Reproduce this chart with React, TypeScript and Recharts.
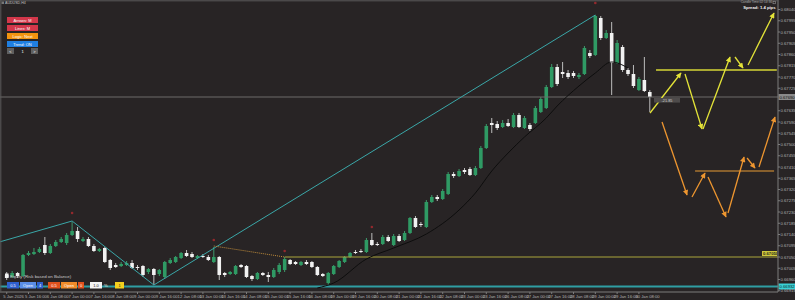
import React from 'react';
import { ComposedChart, Bar, Line, Scatter, XAxis, YAxis, ReferenceLine } from 'recharts';

const opens = [0.66978,0.66970,0.66986,0.66974,0.67058,0.67062,0.67070,0.67098,0.67066,0.67094,0.67110,0.67106,0.67138,0.67154,0.67114,0.67122,0.67094,0.67074,0.67086,0.67038,0.67018,0.67014,0.67018,0.67026,0.67010,0.67014,0.66990,0.67002,0.66982,0.66970,0.67026,0.67030,0.67046,0.67066,0.67062,0.67046,0.67054,0.67050,0.67030,0.67050,0.66986,0.66982,0.66982,0.67018,0.67014,0.66974,0.66962,0.66986,0.66978,0.66970,0.66990,0.66998,0.67038,0.67030,0.67018,0.67030,0.67030,0.67010,0.66982,0.66946,0.66982,0.67010,0.67030,0.67050,0.67070,0.67074,0.67070,0.67118,0.67102,0.67102,0.67130,0.67098,0.67134,0.67118,0.67146,0.67206,0.67182,0.67170,0.67270,0.67290,0.67282,0.67302,0.67382,0.67374,0.67398,0.67402,0.67378,0.67406,0.67486,0.67586,0.67582,0.67570,0.67586,0.67570,0.67618,0.67566,0.67578,0.67586,0.67630,0.67646,0.67730,0.67810,0.67790,0.67786,0.67786,0.67770,0.67782,0.67866,0.67858,0.68006,0.67926,0.67946,0.67826,0.67890,0.67798,0.67782,0.67718,0.67758,0.67710];
const highs = [0.66990,0.66994,0.66990,0.67062,0.67074,0.67086,0.67090,0.67130,0.67102,0.67118,0.67130,0.67146,0.67190,0.67170,0.67130,0.67130,0.67102,0.67086,0.67090,0.67042,0.67026,0.67030,0.67034,0.67038,0.67018,0.67018,0.67006,0.67006,0.67002,0.67034,0.67046,0.67054,0.67070,0.67078,0.67070,0.67058,0.67062,0.67058,0.67090,0.67054,0.66990,0.66994,0.67018,0.67022,0.67018,0.66978,0.66990,0.66990,0.66990,0.67006,0.67026,0.67050,0.67042,0.67034,0.67034,0.67038,0.67034,0.67014,0.66986,0.66990,0.67018,0.67038,0.67054,0.67070,0.67078,0.67082,0.67126,0.67146,0.67110,0.67138,0.67138,0.67142,0.67142,0.67154,0.67210,0.67214,0.67190,0.67278,0.67298,0.67298,0.67322,0.67390,0.67390,0.67402,0.67406,0.67410,0.67414,0.67494,0.67582,0.67606,0.67594,0.67598,0.67602,0.67626,0.67626,0.67614,0.67586,0.67654,0.67690,0.67738,0.67822,0.67822,0.67830,0.67798,0.67794,0.67786,0.67894,0.67878,0.68018,0.68014,0.67958,0.67990,0.67918,0.67898,0.67806,0.67818,0.67770,0.67850,0.67718];
const lows = [0.66958,0.66966,0.66966,0.66970,0.67054,0.67058,0.67066,0.67058,0.67062,0.67090,0.67106,0.67098,0.67134,0.67110,0.67110,0.67090,0.67070,0.67070,0.67026,0.66998,0.67006,0.67010,0.67014,0.67002,0.66998,0.66970,0.66982,0.66938,0.66974,0.66962,0.67022,0.67026,0.67042,0.67050,0.67046,0.67042,0.67046,0.67034,0.67026,0.66958,0.66970,0.66978,0.66978,0.67006,0.66966,0.66954,0.66958,0.66974,0.66950,0.66966,0.66982,0.66990,0.67018,0.67018,0.67014,0.67018,0.67006,0.66974,0.66970,0.66938,0.66978,0.67006,0.67026,0.67046,0.67062,0.67066,0.67066,0.67094,0.67094,0.67098,0.67110,0.67094,0.67110,0.67114,0.67142,0.67166,0.67170,0.67166,0.67266,0.67274,0.67278,0.67298,0.67366,0.67370,0.67382,0.67374,0.67374,0.67402,0.67482,0.67546,0.67558,0.67566,0.67570,0.67566,0.67566,0.67562,0.67554,0.67582,0.67626,0.67642,0.67726,0.67734,0.67766,0.67762,0.67766,0.67762,0.67778,0.67846,0.67854,0.67918,0.67922,0.67698,0.67822,0.67790,0.67774,0.67726,0.67714,0.67710,0.67630];
const closes = [0.66966,0.66986,0.66974,0.67058,0.67066,0.67070,0.67082,0.67066,0.67094,0.67110,0.67122,0.67138,0.67154,0.67122,0.67122,0.67094,0.67074,0.67082,0.67030,0.67006,0.67010,0.67022,0.67026,0.67006,0.67006,0.66978,0.67002,0.66978,0.66998,0.67030,0.67038,0.67050,0.67066,0.67054,0.67050,0.67054,0.67050,0.67038,0.67050,0.66978,0.66978,0.66990,0.67014,0.67010,0.66970,0.66962,0.66986,0.66978,0.66970,0.66998,0.67018,0.67042,0.67022,0.67022,0.67030,0.67022,0.67010,0.66978,0.66974,0.66986,0.67014,0.67034,0.67050,0.67066,0.67066,0.67070,0.67118,0.67098,0.67098,0.67130,0.67114,0.67134,0.67114,0.67146,0.67206,0.67170,0.67178,0.67270,0.67290,0.67282,0.67314,0.67382,0.67374,0.67394,0.67390,0.67378,0.67406,0.67486,0.67574,0.67578,0.67566,0.67586,0.67574,0.67618,0.67570,0.67606,0.67562,0.67646,0.67682,0.67730,0.67810,0.67742,0.67782,0.67770,0.67774,0.67778,0.67886,0.67854,0.68014,0.67926,0.67946,0.67826,0.67906,0.67798,0.67782,0.67734,0.67762,0.67714,0.67690];

const zigzag = [
  { i: -5, p: 0.67087 },
  { i: 12, p: 0.67194 },
  { i: 27, p: 0.66938 },
  { i: 108, p: 0.68018 },
];
const trendMA = [
  { i: 57, p: 0.66926 }, { i: 60, p: 0.66946 }, { i: 66, p: 0.67042 }, { i: 71, p: 0.67086 },
  { i: 77, p: 0.67142 }, { i: 83, p: 0.67238 }, { i: 86, p: 0.67306 }, { i: 89, p: 0.67394 },
  { i: 92, p: 0.67466 }, { i: 95, p: 0.67530 }, { i: 99, p: 0.67606 }, { i: 101, p: 0.67654 },
  { i: 105, p: 0.67734 }, { i: 108, p: 0.67786 }, { i: 111, p: 0.67830 }, { i: 114, p: 0.67806 },
];
const dottedLink = [{ i: 38, p: 0.67094 }, { i: 51, p: 0.6705 }];
const swingMarks = [
  { i: 12, p: 0.67226 }, { i: 38, p: 0.67118 }, { i: 51, p: 0.67074 }, { i: 67, p: 0.6717 }, { i: 108, p: 0.68066 },
];
const yellowLevel = [{ i: 119.14, p: 0.67798 }, { i: 141.3, p: 0.67798 }];
const orangeLevel = [{ i: 126.3, p: 0.67394 }, { i: 140.8, p: 0.67394 }];
const yellowArrows = [
  [118.04, 0.67626, 123.72, 0.67786],
  [124.46, 0.67782, 127.58, 0.67562],
  [127.76, 0.67562, 132.72, 0.6785],
  [133.63, 0.6785, 135.1, 0.67806],
  [136.02, 0.67818, 140.79, 0.68026],
];
const orangeArrows = [
  [120.24, 0.6759, 124.83, 0.67298],
  [125.74, 0.6729, 128.13, 0.67386],
  [128.68, 0.6737, 131.98, 0.6721],
  [132.35, 0.67226, 135.29, 0.6745],
  [135.84, 0.67446, 137.3, 0.67406],
  [138.03, 0.6741, 140.97, 0.6761],
];
const LEVEL = 0.6705;
const LAST_PRICE = 0.6769;
const BOTTOM_LINE = 0.66932;

const xTicks = [0,4,8,12,16,20,24,28,32,36,40,44,48,52,56,60,64,68,72,76,80,84,88,92,96,100,104,108,112,116];
const timeLabels = ['5 Jan 2026','5 Jan 16:00','6 Jan 08:00','7 Jan 00:00','7 Jan 16:00','8 Jan 08:00','9 Jan 00:00','9 Jan 16:00','12 Jan 08:00','13 Jan 00:00','13 Jan 16:00','14 Jan 08:00','15 Jan 00:00','15 Jan 16:00','16 Jan 08:00','19 Jan 00:00','19 Jan 16:00','20 Jan 08:00','21 Jan 00:00','21 Jan 16:00','22 Jan 08:00','23 Jan 00:00','23 Jan 16:00','26 Jan 08:00','27 Jan 00:00','27 Jan 16:00','28 Jan 08:00','29 Jan 00:00','29 Jan 16:00','30 Jan 08:00'];
const yTicks = [0.66915,0.6696,0.67005,0.6705,0.67095,0.6714,0.67185,0.6723,0.67275,0.6732,0.67365,0.6741,0.67455,0.675,0.67545,0.6759,0.67635,0.67725,0.6777,0.67815,0.6786,0.67905,0.6795,0.67995,0.6804];

const X_DOMAIN = [-1.23, 141.52];
const Y_DOMAIN = [0.6691, 0.68078];
const FONT = '"Liberation Sans", Arial, sans-serif';
const BG = '#282425';

const candles = opens.map((o, i) => ({ i, o, h: highs[i], l: lows[i], c: closes[i] }));

function Candle(props: any) {
  const { x, y, width, height, payload } = props;
  if (!payload || y == null || height == null) return null;
  const { o, h, l, c } = payload;
  const cx = x + width / 2;
  const k = h === l ? 0 : height / (h - l);
  const yo = y + (h - o) * k;
  const yc = y + (h - c) * k;
  const bull = c > o;
  const top = Math.min(yo, yc);
  const bh = Math.max(Math.abs(yo - yc), 1);
  const bw = 3.6;
  return (
    <g>
      <line x1={cx} x2={cx} y1={y} y2={y + height} stroke={bull ? '#3e9b6c' : '#bdbdbd'} strokeWidth={1} />
      <rect x={cx - bw / 2} y={top} width={bw} height={bh} fill={bull ? '#2f9a64' : '#f1f1f1'} />
    </g>
  );
}

const XTick = (props: any) => {
  const { x, y, payload } = props;
  const idx = xTicks.indexOf(payload.value);
  return (
    <text x={x - 3.5} y={y + 4.3} fontSize={4.2} fill="#b3b3b3" fontFamily={FONT}>
      {idx >= 0 ? timeLabels[idx] : ''}
    </text>
  );
};

const YTick = (props: any) => {
  const { x, y, payload } = props;
  return (
    <text x={x + 0.5} y={y + 1.5} fontSize={4.2} fill="#b3b3b3" fontFamily={FONT}>
      {Number(payload.value).toFixed(5)}
    </text>
  );
};

const axisBadge = (text: string, bg: string, fg: string) => (props: any) => {
  const vb = props.viewBox;
  if (!vb) return null;
  const x = vb.x + vb.width;
  const y = vb.y;
  return (
    <g>
      <rect x={x + 0.5} y={y - 3} width={16.5} height={6} fill={bg} />
      <text x={x + 1.5} y={y + 1.6} fontSize={4.2} fill={fg} fontFamily={FONT}>{text}</text>
    </g>
  );
};

const levelBadge = (props: any) => {
  const vb = props.viewBox;
  if (!vb) return null;
  const x = vb.x + vb.width;
  const y = vb.y;
  return (
    <g>
      <rect x={x - 16} y={y - 6} width={15} height={5} fill="#cfc83c" />
      <text x={x - 15} y={y - 2.2} fontSize={4.2} fontWeight="bold" fill="#2a2a1a" fontFamily={FONT}>0.67050</text>
    </g>
  );
};

const Mark = (props: any) => (
  <circle cx={props.cx} cy={props.cy} r={1.3} fill="#93292d" />
);

const btn = (x: number, y: number, w: number, h: number, fill: string, label: string, color = '#fff') => (
  <g key={label + x + y}>
    <rect x={x} y={y} width={w} height={h} fill={fill} />
    <text x={x + w / 2} y={y + h / 2 + 1.5} fontSize={4} textAnchor="middle" fill={color} fontFamily={FONT}>{label}</text>
  </g>
);

export default function App() {
  return (
    <div style={{ position: 'absolute', left: 0, top: 0, width: 795, height: 300, background: BG, overflow: 'hidden' }}>
      <svg width={0} height={0} style={{ position: 'absolute' }}>
        <defs>
          <marker id="ahY" viewBox="0 0 10 10" refX="9" refY="5" markerWidth="6.5" markerHeight="5.5" orient="auto" markerUnits="userSpaceOnUse">
            <path d="M0,0 L10,5 L0,10 z" fill="#e3e338" />
          </marker>
          <marker id="ahO" viewBox="0 0 10 10" refX="9" refY="5" markerWidth="6.5" markerHeight="5.5" orient="auto" markerUnits="userSpaceOnUse">
            <path d="M0,0 L10,5 L0,10 z" fill="#ee9630" />
          </marker>
        </defs>
      </svg>
      <ComposedChart width={795} height={300} data={candles} margin={{ top: 0, right: 0, bottom: 0, left: 0 }}>
        <XAxis
          type="number"
          dataKey="i"
          domain={X_DOMAIN}
          allowDataOverflow
          ticks={xTicks}
          interval={0}
          height={8}
          tickSize={2}
          tickMargin={0}
          axisLine={{ stroke: '#7c7c7c' }}
          tickLine={{ stroke: '#7c7c7c' }}
          tick={<XTick />}
        />
        <YAxis
          type="number"
          orientation="right"
          domain={Y_DOMAIN}
          allowDataOverflow
          ticks={yTicks}
          interval={0}
          width={17}
          tickSize={2}
          tickMargin={0}
          axisLine={{ stroke: '#7c7c7c' }}
          tickLine={{ stroke: '#7c7c7c' }}
          tick={<YTick />}
        />
        <ReferenceLine y={LAST_PRICE} stroke="#6c6a6a" strokeWidth={1} label={axisBadge('0.67690', '#8a8a8a', '#111')} />
        <ReferenceLine y={BOTTOM_LINE} stroke="#2f9ea3" strokeWidth={2} label={axisBadge('0.66932', '#3ad0d6', '#0c2a2a')} />
        <ReferenceLine segment={[{ x: 51, y: LEVEL }, { x: X_DOMAIN[1], y: LEVEL }]} stroke="#aaa53c" strokeWidth={1} label={levelBadge} />
        <Line data={zigzag} dataKey="p" type="linear" stroke="#3aa7a8" strokeWidth={1} dot={false} activeDot={false} isAnimationActive={false} />
        <Line data={dottedLink} dataKey="p" type="linear" stroke="#c08c3a" strokeWidth={1} strokeDasharray="1 1" dot={false} activeDot={false} isAnimationActive={false} />
        <Line data={trendMA} dataKey="p" type="monotone" stroke="#0d0d0d" strokeWidth={1} dot={false} activeDot={false} isAnimationActive={false} />
        <Bar dataKey={(d: any) => [d.l, d.h]} barSize={4} shape={<Candle />} isAnimationActive={false} />
        <Scatter data={swingMarks} dataKey="p" shape={<Mark />} isAnimationActive={false} />
        <Line data={yellowLevel} dataKey="p" type="linear" stroke="#d6d636" strokeWidth={1.4} dot={false} activeDot={false} isAnimationActive={false} />
        <Line data={orangeLevel} dataKey="p" type="linear" stroke="#e59a35" strokeWidth={1.2} dot={false} activeDot={false} isAnimationActive={false} />
        {yellowArrows.map((a, k) => (
          <Line key={'y' + k} data={[{ i: a[0], p: a[1] }, { i: a[2], p: a[3] }]} dataKey="p" type="linear" stroke="#e3e338" strokeWidth={1.3} markerEnd="url(#ahY)" dot={false} activeDot={false} isAnimationActive={false} />
        ))}
        {orangeArrows.map((a, k) => (
          <Line key={'o' + k} data={[{ i: a[0], p: a[1] }, { i: a[2], p: a[3] }]} dataKey="p" type="linear" stroke="#ee9630" strokeWidth={1.3} markerEnd="url(#ahO)" dot={false} activeDot={false} isAnimationActive={false} />
        ))}
      </ComposedChart>
      <svg width={795} height={300} style={{ position: 'absolute', left: 0, top: 0, pointerEvents: 'none' }} fontFamily={FONT}>
        <line x1={0} x2={778} y1={0.8} y2={0.8} stroke="#5a5a5a" strokeWidth={1} />
        <line x1={0.8} x2={0.8} y1={0} y2={292} stroke="#5a5a5a" strokeWidth={1} />
        <rect x={1.5} y={1.5} width={2.5} height={2.5} fill="#777" />
        <text x={5} y={4.3} fontSize={3.6} fill="#c0c0c0">AUDUSD,H4</text>
        <text x={772} y={3.4} fontSize={3.2} textAnchor="end" fill="#a8a8a8">Candle Time 02:14:36</text>
        <rect x={773} y={1.2} width={2.6} height={2.6} fill="none" stroke="#a8a8a8" strokeWidth={0.5} />
        <text x={775.5} y={8.6} fontSize={4.2} textAnchor="end" fontWeight="bold" fill="#f2f2f2">Spread: 1.4 pips</text>
        {btn(7, 17, 31, 6, '#d3374a', 'Arrows: M')}
        {btn(7, 25, 31, 6, '#d3374a', 'Lines: M')}
        {btn(7, 33, 31, 6, '#f2930f', 'Logic: Next')}
        {btn(7, 41, 31, 6, '#1f7fe2', 'Trend: ON')}
        {btn(7, 48, 7, 6, '#5f5f5f', '<')}
        <text x={22.5} y={52.5} fontSize={4} textAnchor="middle" fill="#fff">1</text>
        {btn(31, 48, 7, 6, '#5f5f5f', '>')}
        <rect x={654} y={98} width={26} height={4.6} fill="#4e4b4b" />
        <text x={667} y={101.7} fontSize={3.8} textAnchor="middle" fill="#d0d0d0">-21.85</text>
        <rect x={5} y={273.5} width={3.6} height={4} fill="#f2f2f2" />
        <text x={10} y={277.6} fontSize={4.4} fill="#c8c8c8">Equity (Risk based on Balance)</text>
        {btn(7, 282, 12, 6.5, '#2e60cf', '0.5')}
        {btn(20, 282, 16, 6.5, '#5b8ee6', 'Open')}
        {btn(37, 282, 6, 6.5, '#2e60cf', '4')}
        {btn(48, 282, 12, 6.5, '#df511d', '0.5')}
        {btn(61, 282, 16, 6.5, '#f08b2a', 'Open')}
        {btn(78, 282, 6, 6.5, '#df511d', '0')}
        {btn(90, 282, 12, 6.5, '#f4f4f4', '1.0', '#222')}
        <text x={104} y={287} fontSize={4.2} fill="#e8e8e8">%</text>
        {btn(115, 282, 9, 6.5, '#f4cf1e', '1', '#222')}
      </svg>
    </div>
  );
}
